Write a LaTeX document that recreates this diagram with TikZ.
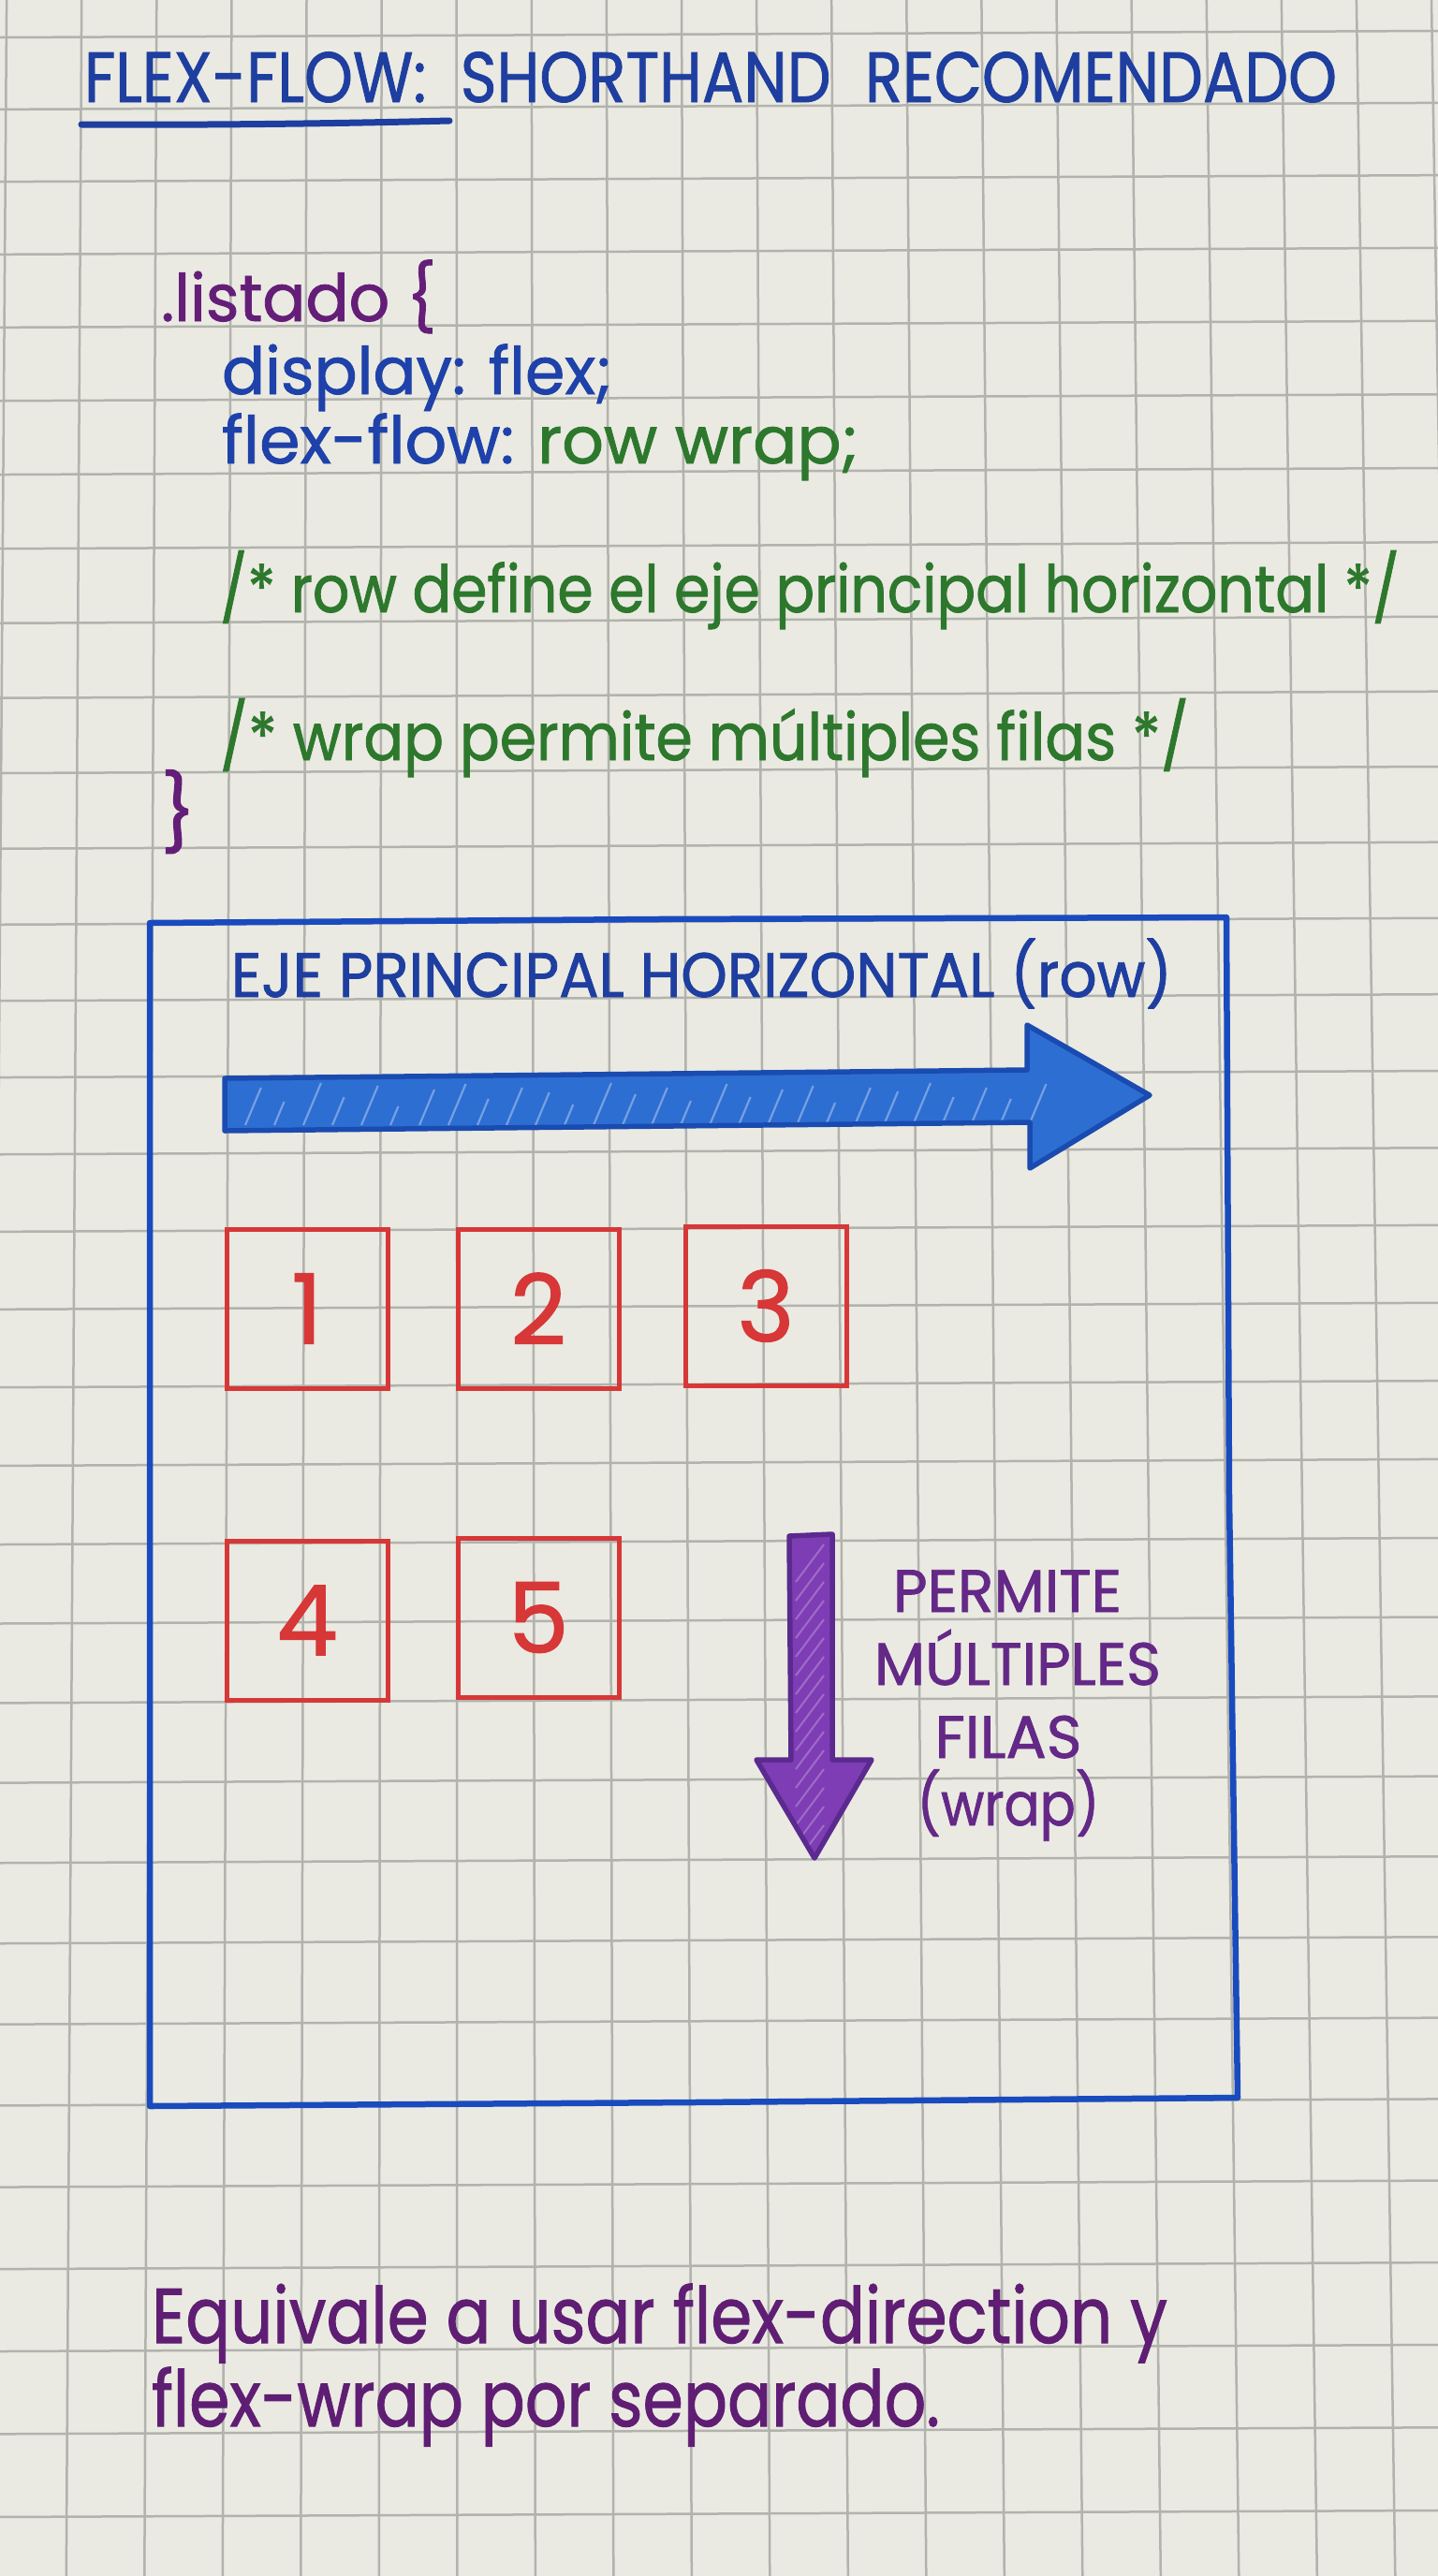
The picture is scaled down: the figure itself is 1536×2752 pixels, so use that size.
\documentclass[tikz,border=0pt]{standalone}
\usepackage{fontspec}
\setmainfont{Poppins}[FakeBold=1.2]
\usepackage{graphicx}
\definecolor{paper}{RGB}{234,234,226}
\definecolor{gridgray}{RGB}{178,178,174}
\definecolor{titleblue}{RGB}{30,62,160}
\definecolor{boxblue}{RGB}{25,75,190}
\definecolor{arrowfill}{RGB}{45,110,210}
\definecolor{arrowline}{RGB}{26,75,176}
\definecolor{codepurple}{RGB}{100,30,120}
\definecolor{codeblue}{RGB}{30,65,170}
\definecolor{codegreen}{RGB}{45,120,45}
\definecolor{boxred}{RGB}{215,55,55}
\definecolor{wrapfill}{RGB}{126,61,181}
\definecolor{wrapline}{RGB}{91,42,143}
\definecolor{labelpurple}{RGB}{100,40,135}
\definecolor{bottompurple}{RGB}{95,30,115}
\newcommand{\fitw}[2]{\resizebox{#1}{\height}{#2}}
\newcommand{\codefont}{\fontsize{70}{76}\selectfont}
\newcommand{\lblfont}{\fontsize{64}{70}\selectfont}
\begin{document}
\begin{tikzpicture}[x=1pt,y=-1pt,
  gridline/.style={draw=gridgray,line width=2.5},
  txt/.style={inner sep=0pt,outer sep=0pt,anchor=base west},
  ctr/.style={inner sep=0pt,outer sep=0pt,anchor=base},
  numbox/.style={draw=boxred,line width=5,minimum width=172,minimum height=170,inner sep=0pt,text=boxred,font=\fontsize{104}{110}\selectfont},
  bigarrow/.style={line width=5.5,line join=round}]
\useasboundingbox (0,0) rectangle (1536,2752);
\clip (0,0) rectangle (1536,2752);
\fill[paper] (0,0) rectangle (1536,2752);
% grid
\foreach \n in {0,...,32}{
  \pgfmathsetmacro\yy{40+76.7*\n+0.19*\n*\n}
  \draw[gridline] (0,\yy) -- (1536,\yy-7);
}
\foreach \k in {0,...,19}{
  \pgfmathsetmacro\xa{7.1+80.1*\k}
  \pgfmathsetmacro\xb{-12.7+83.5*\k}
  \draw[gridline] (\xa,0) -- (\xb,2752);
}
% title
\node[txt,text=titleblue] (title) at (90,109) {\fontsize{76}{80}\selectfont\fitw{1338pt}{FLEX-FLOW:\hspace{0.55em}SHORTHAND\hspace{0.55em}RECOMENDADO}};
\coordinate (ul1) at (87,133);
\coordinate (ul2) at (480,129);
\draw[titleblue,line width=7,line cap=round] (ul1) .. controls (250,134) and (400,131) .. (ul2);
% code
\node[txt,text=codepurple] (sel) at (172,343) {\codefont\fitw{294pt}{.listado \{}};
\node[txt,text=codeblue] (disp) at (237,421) {\codefont\fitw{417pt}{display: flex;}};
\node[txt] (ff) at (237,495) {\codefont\fitw{680pt}{\textcolor{codeblue}{flex-flow:} \textcolor{codegreen}{row wrap;}}};
\node[txt,text=codegreen] (c1) at (235,654) {\codefont\fitw{1260pt}{/* row define el eje principal horizontal */}};
\node[txt,text=codegreen] (c2) at (235,812) {\codefont\fitw{1035pt}{/* wrap permite múltiples filas */}};
\node[txt,text=codepurple] (close) at (172,897) {\fontsize{80}{84}\selectfont \}};
% container box
\draw[boxblue,line width=6.5,line join=round] (160,986) -- (700,982) -- (1310,980) -- (1313,1600) -- (1322,2241) -- (740,2246) -- (160,2250) -- cycle;
\node[txt,text=titleblue] (eje) at (247,1065) {\fontsize{67}{70}\selectfont\fitw{1005pt}{EJE PRINCIPAL\ HORIZONTAL\ (row)}};
% horizontal arrow
\begin{scope}
\path[clip] (240,1152) -- (1097,1143) -- (1097,1095) -- (1228,1170) -- (1100,1248) -- (1100,1199) -- (240,1208) -- cycle;
\fill[arrowfill] (230,1080) rectangle (1240,1260);
\foreach \i/\l in {0/40,1/25,2/45,3/30,4/42,5/20,6/38,7/44,8/28,9/40,10/35,11/22,12/45,13/33,14/40,15/26,16/44,17/30,18/38,19/42,20/24,21/40,22/36,23/45,24/30,25/40,26/28,27/44}{
  \draw[white,opacity=0.35,line width=2.2] (262+\i*31,1202) -- ++(0.42*\l,-\l);
}
\end{scope}
\draw[arrowline,bigarrow] (240,1152) -- (1097,1143) -- (1097,1095) -- (1228,1170) -- (1100,1248) -- (1100,1199) -- (240,1208) -- cycle;
% boxes
\node[numbox] (n1) at (328,1398) {1};
\node[numbox] (n2) at (575,1398) {2};
\node[numbox] (n3) at (818,1395) {3};
\node[numbox] (n4) at (328,1731) {4};
\node[numbox] (n5) at (575,1728) {5};
% vertical arrow
\begin{scope}
\path[clip] (843,1641) -- (889,1639) -- (889,1880) -- (931,1880) -- (870,1985) -- (808,1880) -- (845,1880) -- cycle;
\fill[wrapfill] (800,1630) rectangle (940,1990);
\foreach \i in {0,...,15}{
  \draw[white,opacity=0.25,line width=2] (850,1690+\i*20) -- ++(30,-40);
}
\end{scope}
\draw[wrapline,bigarrow] (843,1641) -- (889,1639) -- (889,1880) -- (931,1880) -- (870,1985) -- (808,1880) -- (845,1880) -- cycle;
% wrap label
\node[ctr,text=labelpurple] (pl1) at (1076,1722) {\lblfont\fitw{244pt}{PERMITE}};
\node[ctr,text=labelpurple] (pl2) at (1087,1800) {\lblfont\fitw{306pt}{MÚLTIPLES}};
\node[ctr,text=labelpurple] (pl3) at (1077,1878) {\lblfont\fitw{157pt}{FILAS}};
\node[ctr,text=labelpurple] (pl4) at (1077,1950) {\lblfont\fitw{195pt}{(wrap)}};
% bottom text
\node[txt,text=bottompurple] (eq1) at (162,2503) {\fontsize{83}{90}\selectfont\fitw{1085pt}{Equivale a usar flex-direction y}};
\node[txt,text=bottompurple] (eq2) at (162,2592) {\fontsize{83}{90}\selectfont\fitw{842pt}{flex-wrap por separado.}};
\end{tikzpicture}
\end{document}
